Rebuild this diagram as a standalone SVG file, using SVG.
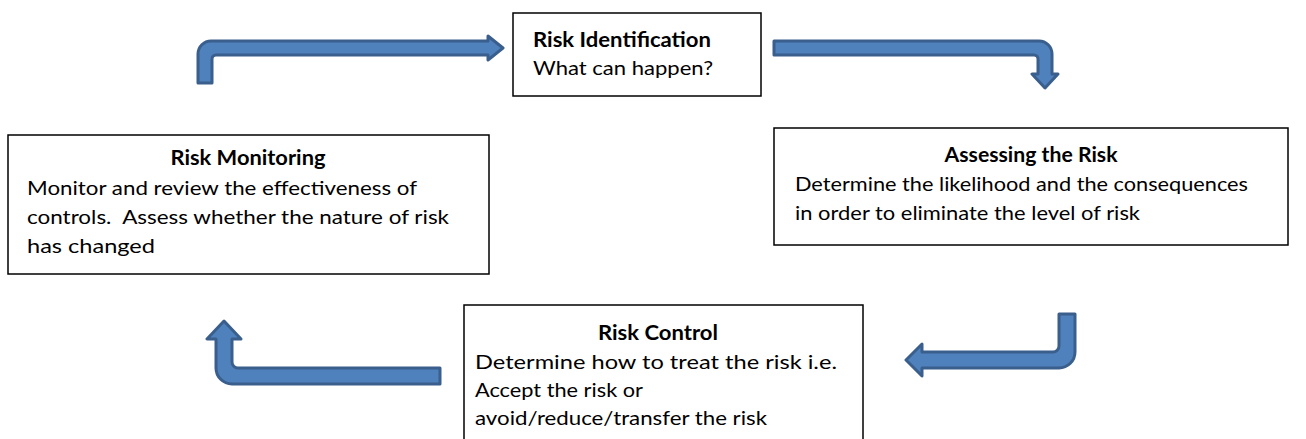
<svg xmlns="http://www.w3.org/2000/svg" width="1306" height="439" viewBox="0 0 1306 439">
<style>
.box{fill:#ffffff;stroke:#000000;stroke-width:1.5}
.arr{fill:#4F81BD;stroke:#3A5F8C;stroke-width:3;stroke-linejoin:round}
text{font-family:Lato,"Open Sans","Liberation Sans",sans-serif;font-size:20px;fill:#000000}
.b{font-weight:bold}
</style>
<rect width="1306" height="439" fill="#ffffff"/>
<g id="connectors">
<path class="arr" d="M198,83 V54 A13,13 0 0 1 211,41 H488 V36 L503,48 L488,60 V55 H216 A4,4 0 0 0 212,59 V83 Z"/>
<path class="arr" d="M774,41 H1039 A13,13 0 0 1 1052,54 V74 H1058 L1045,88 L1032,74 H1038 V59 A4,4 0 0 0 1034,55 H774 Z"/>
<path class="arr" d="M1075,314 V352 A16,16 0 0 1 1059,368 H922 V376 L906,360 L922,344 V352 H1053 A6,6 0 0 0 1059,346 V314 Z"/>
<path class="arr" d="M440,368 H238 A6,6 0 0 1 232,362 V339 H241 L224,321 L207,339 H216 V368 A16,16 0 0 0 232,384 H440 Z"/>
</g>
<g id="risk-identification">
<rect class="box" x="513" y="13" width="248" height="83"/>
<text class="b" x="533" y="47" textLength="178" lengthAdjust="spacingAndGlyphs">Risk Identification</text>
<text x="533" y="75" textLength="180" lengthAdjust="spacingAndGlyphs">What can happen?</text>
</g>
<g id="assessing-the-risk">
<rect class="box" x="774" y="128" width="514" height="117"/>
<text class="b" x="1031" y="162" text-anchor="middle" textLength="173" lengthAdjust="spacingAndGlyphs">Assessing the Risk</text>
<text x="795" y="191" textLength="453" lengthAdjust="spacingAndGlyphs">Determine the likelihood and the consequences</text>
<text x="795" y="220" textLength="345" lengthAdjust="spacingAndGlyphs">in order to eliminate the level of risk</text>
</g>
<g id="risk-monitoring">
<rect class="box" x="8" y="135" width="481" height="139"/>
<text class="b" x="248" y="165" text-anchor="middle" textLength="155" lengthAdjust="spacingAndGlyphs">Risk Monitoring</text>
<text x="27" y="195" textLength="390" lengthAdjust="spacingAndGlyphs">Monitor and review the effectiveness of</text>
<text x="27" y="224" textLength="422" lengthAdjust="spacingAndGlyphs">controls.&#160; Assess whether the nature of risk</text>
<text x="27" y="253" textLength="128" lengthAdjust="spacingAndGlyphs">has changed</text>
</g>
<g id="risk-control">
<rect class="box" x="464" y="305" width="399" height="145"/>
<text class="b" x="658" y="340" text-anchor="middle" textLength="120" lengthAdjust="spacingAndGlyphs">Risk Control</text>
<text x="475" y="369" textLength="362" lengthAdjust="spacingAndGlyphs">Determine how to treat the risk i.e.</text>
<text x="475" y="397" textLength="168" lengthAdjust="spacingAndGlyphs">Accept the risk or</text>
<text x="475" y="425" textLength="292" lengthAdjust="spacingAndGlyphs">avoid/reduce/transfer the risk</text>
</g>
</svg>
